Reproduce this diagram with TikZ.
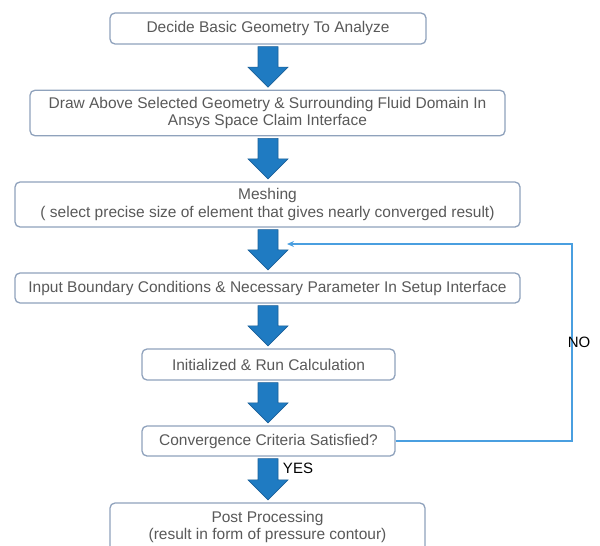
\documentclass[tikz,border=0pt]{standalone}
\usepackage{fontspec}
\setmainfont{Liberation Sans}
\usetikzlibrary{calc,arrows.meta}
\definecolor{boxline}{HTML}{8FA2BC}
\definecolor{txt}{HTML}{595959}
\definecolor{arrfill}{HTML}{1F7BC2}
\definecolor{arrline}{HTML}{1A5F98}
\definecolor{fbline}{HTML}{4A9FE0}
\tikzset{
  stepbox/.style={draw=boxline, line width=1.3pt, rounded corners=5pt, fill=white,
    text=txt, font=\fontsize{15.5}{17.5}\selectfont, align=center, inner sep=0pt},
  bigarrow/.style={fill=arrfill, draw=arrline, line width=0.6pt, line join=miter},
  fb/.style={draw=fbline, line width=1.2pt, -{Stealth[length=7pt,width=6pt]}},
  lbl/.style={text=black, font=\fontsize{15}{17}\selectfont, inner sep=0pt}
}
\newcommand\blockarrow[2]{%
  \path[bigarrow] let \p1=($(#1.south)+(0,2)$), \p2=($(#2.north)+(0,-2.5)$),
    \n1={min(20,0.85*(\y1-\y2))} in
    (268pt-10pt,\y1) -- (268pt+10pt,\y1) -- (268pt+10pt,\y2+\n1*1pt) -- (268pt+20pt,\y2+\n1*1pt)
    -- (268pt,\y2) -- (268pt-20pt,\y2+\n1*1pt) -- (268pt-10pt,\y2+\n1*1pt) -- cycle;}
\begin{document}
\begin{tikzpicture}[x=1pt,y=-1pt]
\useasboundingbox (0,0) rectangle (600,546);
\node[stepbox, minimum width=316pt, minimum height=31pt] (b1) at (268,28.5) {Decide Basic Geometry To Analyze};
\node[stepbox, minimum width=475pt, minimum height=45.5pt] (b2) at (267.5,113) {Draw Above Selected Geometry \& Surrounding Fluid Domain In\\Ansys Space Claim Interface};
\node[stepbox, minimum width=505pt, minimum height=45pt] (b3) at (267.5,204.5) {Meshing\\( select precise size of element that gives nearly converged result)};
\node[stepbox, minimum width=505pt, minimum height=30pt] (b4) at (267.5,288) {Input Boundary Conditions \& Necessary Parameter In Setup Interface};
\node[stepbox, minimum width=253pt, minimum height=31pt] (b5) at (268.5,364.5) {Initialized \& Run Calculation};
\node[stepbox, minimum width=253pt, minimum height=30pt] (b6) at (268.5,441) {Convergence Criteria Satisfied?};
\node[stepbox, minimum width=315pt, minimum height=48pt] (b7) at (267.5,527) {Post Processing\\(result in form of pressure contour)};
\blockarrow{b1}{b2}
\blockarrow{b2}{b3}
\blockarrow{b3}{b4}
\blockarrow{b4}{b5}
\blockarrow{b5}{b6}
\blockarrow{b6}{b7}
\coordinate (fbtop) at (572,244);
\coordinate (fbend) at (287,244);
\draw[fb] (b6.east) -| (fbtop) -- (fbend);
\node[lbl] (no) at (579,342) {NO};
\node[lbl] (yes) at (298,468) {YES};
\end{tikzpicture}
\end{document}
